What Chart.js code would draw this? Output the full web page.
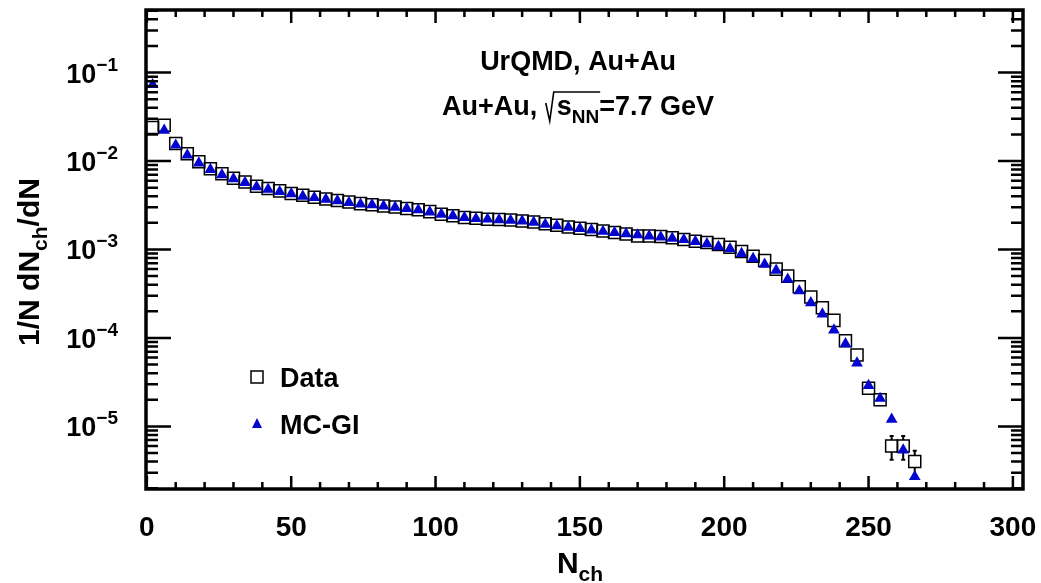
<!DOCTYPE html>
<html>
<head>
<meta charset="utf-8">
<script src="https://cdn.jsdelivr.net/npm/chart.js@4.4.1/dist/chart.umd.min.js"></script>
<style>
  html, body { margin: 0; padding: 0; background: #fff; }
</style>
</head>
<body>
<canvas id="chart" width="1041" height="583"></canvas>
<script>
// bin centres of N_ch
const nch = [2, 6, 10, 14, 18, 22, 26, 30, 34, 38,
             42, 46, 50, 54, 58, 62, 66, 70, 74, 78,
             82, 86, 90, 94, 98, 102, 106, 110, 114, 118,
             122, 126, 130, 134, 138, 142, 146, 150, 154, 158,
             162, 166, 170, 174, 178, 182, 186, 190, 194, 198,
             202, 206, 210, 214, 218, 222, 226, 230, 234, 238,
             242, 246, 250, 254, 258, 262, 266];

// UrQMD "Data" (open squares)
const dataVals = [0.024, 0.0254, 0.0158, 0.0121, 0.0098, 0.0082, 0.0072, 0.0064, 0.0058, 0.0052,
                  0.0049, 0.0046, 0.0043, 0.0041, 0.0039, 0.00372, 0.00358, 0.00344, 0.0033, 0.0032,
                  0.0031, 0.00302, 0.0029, 0.00282, 0.00268, 0.0025, 0.0024, 0.0023, 0.00225, 0.0022,
                  0.00218, 0.00215, 0.0021, 0.00205, 0.00195, 0.00188, 0.0018, 0.00174, 0.00168, 0.00162,
                  0.00156, 0.0015, 0.00142, 0.00142, 0.0014, 0.00136, 0.0013, 0.00124, 0.0012, 0.00114,
                  0.00106, 0.00095, 0.00084, 0.00075, 0.0006, 0.0005, 0.00038, 0.00029, 0.00022, 0.000158,
                  9.3e-5, 6.4e-5, 2.7e-5, 2.0e-5, 6.0e-6, 6.0e-6, 4.0e-6];

// error bars on the tail of the data
const errNch = [250, 254, 258, 262, 266];
const errVals = [2.5e-6, 2.0e-6, 1.8e-6, 1.8e-6, 1.3e-6];

// MC-Glauber fit (blue triangles)
const mcVals = [0.073, 0.0223, 0.0151, 0.0117, 0.0095, 0.0080, 0.0070, 0.0063, 0.0057, 0.0051,
                0.0048, 0.0045, 0.00425, 0.0040, 0.00385, 0.0037, 0.00355, 0.0034, 0.00325, 0.0032,
                0.0031, 0.0030, 0.0029, 0.0028, 0.00265, 0.0025, 0.0024, 0.0023, 0.00223, 0.0022,
                0.00216, 0.00213, 0.0021, 0.00203, 0.00192, 0.00185, 0.00178, 0.00172, 0.00166, 0.0016,
                0.00155, 0.0015, 0.00146, 0.00142, 0.00138, 0.00134, 0.00129, 0.00123, 0.00116, 0.00108,
                0.00102, 0.0009, 0.00079, 0.00068, 0.00058, 0.00046, 0.00034, 0.00025, 0.000186, 0.000123,
                8.6e-5, 5.2e-5, 2.9e-5, 2.07e-5, 1.2e-5, 5.4e-6, 2.7e-6];

const xTickLabels = [0, 50, 100, 150, 200, 250, 300];
const yTickExps = [-1, -2, -3, -4, -5];

const BLUE = '#0505d0';
const FONT = '"Liberation Sans", Arial, Helvetica, sans-serif';
const font = (size) => `bold ${size}px ${FONT}`;

// draws a run of text pieces [{t, size, dy}] starting at x, returns end x
function drawPieces(ctx, pieces, x, y) {
    pieces.forEach(p => {
        ctx.font = font(p.size);
        ctx.fillText(p.t, x, y + (p.dy || 0));
        x += ctx.measureText(p.t).width;
    });
    return x;
}
function piecesWidth(ctx, pieces) {
    let w = 0;
    pieces.forEach(p => { ctx.font = font(p.size); w += ctx.measureText(p.t).width; });
    return w;
}

const rootStyle = {
    id: 'rootStyle',
    beforeDatasetsDraw(chart) {
        const { ctx, scales: { x, y } } = chart;
        ctx.save();
        ctx.strokeStyle = '#000';
        ctx.lineWidth = 2;
        ctx.beginPath();
        errNch.forEach((n, i) => {
            const idx = nch.indexOf(n);
            const v = dataVals[idx];
            const px = x.getPixelForValue(n);
            const py = y.getPixelForValue(v);
            const top = y.getPixelForValue(v + errVals[i]);
            const bot = y.getPixelForValue(v - errVals[i]);
            if (top < py - 6) { ctx.moveTo(px, py - 6); ctx.lineTo(px, top); ctx.moveTo(px - 2, top); ctx.lineTo(px + 2, top); }
            if (bot > py + 6) { ctx.moveTo(px, py + 6); ctx.lineTo(px, bot); ctx.moveTo(px - 2, bot); ctx.lineTo(px + 2, bot); }
        });
        ctx.stroke();
        ctx.restore();
    },
    afterDraw(chart) {
        const { ctx, chartArea: a, scales: { x, y } } = chart;
        ctx.save();
        ctx.strokeStyle = '#000';
        ctx.fillStyle = '#000';

        // ticks, all pointing inwards
        ctx.lineWidth = 2.5;
        ctx.beginPath();
        for (let v = 0; v <= 300; v += 10) {
            const px = x.getPixelForValue(v);
            const len = v % 50 === 0 ? 13 : 7;
            ctx.moveTo(px, a.bottom); ctx.lineTo(px, a.bottom - len);
            ctx.moveTo(px, a.top); ctx.lineTo(px, a.top + len);
        }
        for (let e = -6; e <= 0; e++) {
            for (let m = 1; m <= 9; m++) {
                const v = m * Math.pow(10, e);
                if (v < y.min || v > y.max) continue;
                const py = y.getPixelForValue(v);
                const len = m === 1 ? 25 : 12;
                ctx.moveTo(a.left, py); ctx.lineTo(a.left + len, py);
                ctx.moveTo(a.right, py); ctx.lineTo(a.right - len, py);
            }
        }
        ctx.stroke();

        // frame
        ctx.lineWidth = 3.5;
        ctx.strokeRect(a.left, a.top, a.width, a.height);

        // x tick labels
        ctx.font = font(28);
        ctx.textAlign = 'center';
        ctx.textBaseline = 'middle';
        xTickLabels.forEach(v => ctx.fillText(String(v), x.getPixelForValue(v), a.bottom + 39));

        // y tick labels 10^n
        ctx.textAlign = 'left';
        ctx.textBaseline = 'alphabetic';
        yTickExps.forEach(e => {
            const py = y.getPixelForValue(Math.pow(10, e));
            const pieces = [{ t: '10', size: 27 }, { t: '\u2212' + (-e), size: 19, dy: -12 }];
            const w = piecesWidth(ctx, pieces);
            drawPieces(ctx, pieces, 118 - w, py + 10);
        });

        // x axis title
        const xt = [{ t: 'N', size: 30 }, { t: 'ch', size: 21, dy: 8 }];
        drawPieces(ctx, xt, 580 - piecesWidth(ctx, xt) / 2, 573);

        // y axis title
        ctx.save();
        ctx.translate(39, 262);
        ctx.rotate(-Math.PI / 2);
        const yt = [{ t: '1/N dN', size: 30 }, { t: 'ch', size: 21, dy: 8 }, { t: '/dN', size: 30 }];
        drawPieces(ctx, yt, -piecesWidth(ctx, yt) / 2, 0);
        ctx.restore();

        // header texts
        const l1 = [{ t: 'UrQMD, Au+Au', size: 27 }];
        drawPieces(ctx, l1, 578 - piecesWidth(ctx, l1) / 2, 70);
        const pre = [{ t: 'Au+Au, ', size: 27 }];
        const rad = [{ t: 's', size: 27 }, { t: 'NN', size: 19, dy: 8 }];
        const post = [{ t: '=7.7 GeV', size: 27 }];
        const radW = 12;
        const total = piecesWidth(ctx, pre) + radW + piecesWidth(ctx, rad) + piecesWidth(ctx, post);
        let cx = 578 - total / 2;
        const base = 115;
        cx = drawPieces(ctx, pre, cx, base);
        const sStart = cx + radW;
        const sEnd = sStart + piecesWidth(ctx, rad);
        ctx.lineWidth = 1.6;
        ctx.beginPath();
        ctx.moveTo(cx + 1, base - 12);
        ctx.lineTo(cx + 5, base + 6);
        ctx.lineTo(cx + 9, base - 23);
        ctx.lineTo(sEnd + 1, base - 23);
        ctx.stroke();
        cx = drawPieces(ctx, rad, sStart, base);
        drawPieces(ctx, post, cx, base);

        // legend
        ctx.lineWidth = 1.5;
        ctx.strokeRect(251, 371, 12, 12);
        drawPieces(ctx, [{ t: 'Data', size: 27 }], 280, 387);
        ctx.fillStyle = BLUE;
        ctx.beginPath();
        ctx.moveTo(257, 418); ctx.lineTo(262, 428); ctx.lineTo(252, 428);
        ctx.closePath();
        ctx.fill();
        ctx.fillStyle = '#000';
        drawPieces(ctx, [{ t: 'MC-GI', size: 27 }], 280, 434);

        ctx.restore();
    }
};

new Chart(document.getElementById('chart').getContext('2d'), {
    type: 'scatter',
    data: {
        datasets: [
            {
                label: 'Data',
                data: nch.map((n, i) => ({ x: n, y: dataVals[i] })),
                pointStyle: 'rect',
                pointRadius: 8.5,
                borderWidth: 1.5,
                borderColor: '#000',
                backgroundColor: 'rgba(0,0,0,0)',
                order: 1
            },
            {
                label: 'MC-GI',
                data: nch.map((n, i) => ({ x: n, y: mcVals[i] })),
                pointStyle: 'triangle',
                pointRadius: 6.8,
                borderWidth: 0,
                borderColor: BLUE,
                backgroundColor: BLUE,
                order: 0
            }
        ]
    },
    options: {
        responsive: false,
        devicePixelRatio: 1,
        animation: false,
        layout: { padding: { left: 146, top: 7, right: 18, bottom: 94 } },
        plugins: { legend: { display: false }, tooltip: { enabled: false } },
        scales: {
            x: { type: 'linear', display: false, min: -0.3, max: 303.5 },
            y: { type: 'logarithmic', display: false, min: 1.96e-6, max: 0.51 }
        }
    },
    plugins: [rootStyle]
});
</script>
</body>
</html>
